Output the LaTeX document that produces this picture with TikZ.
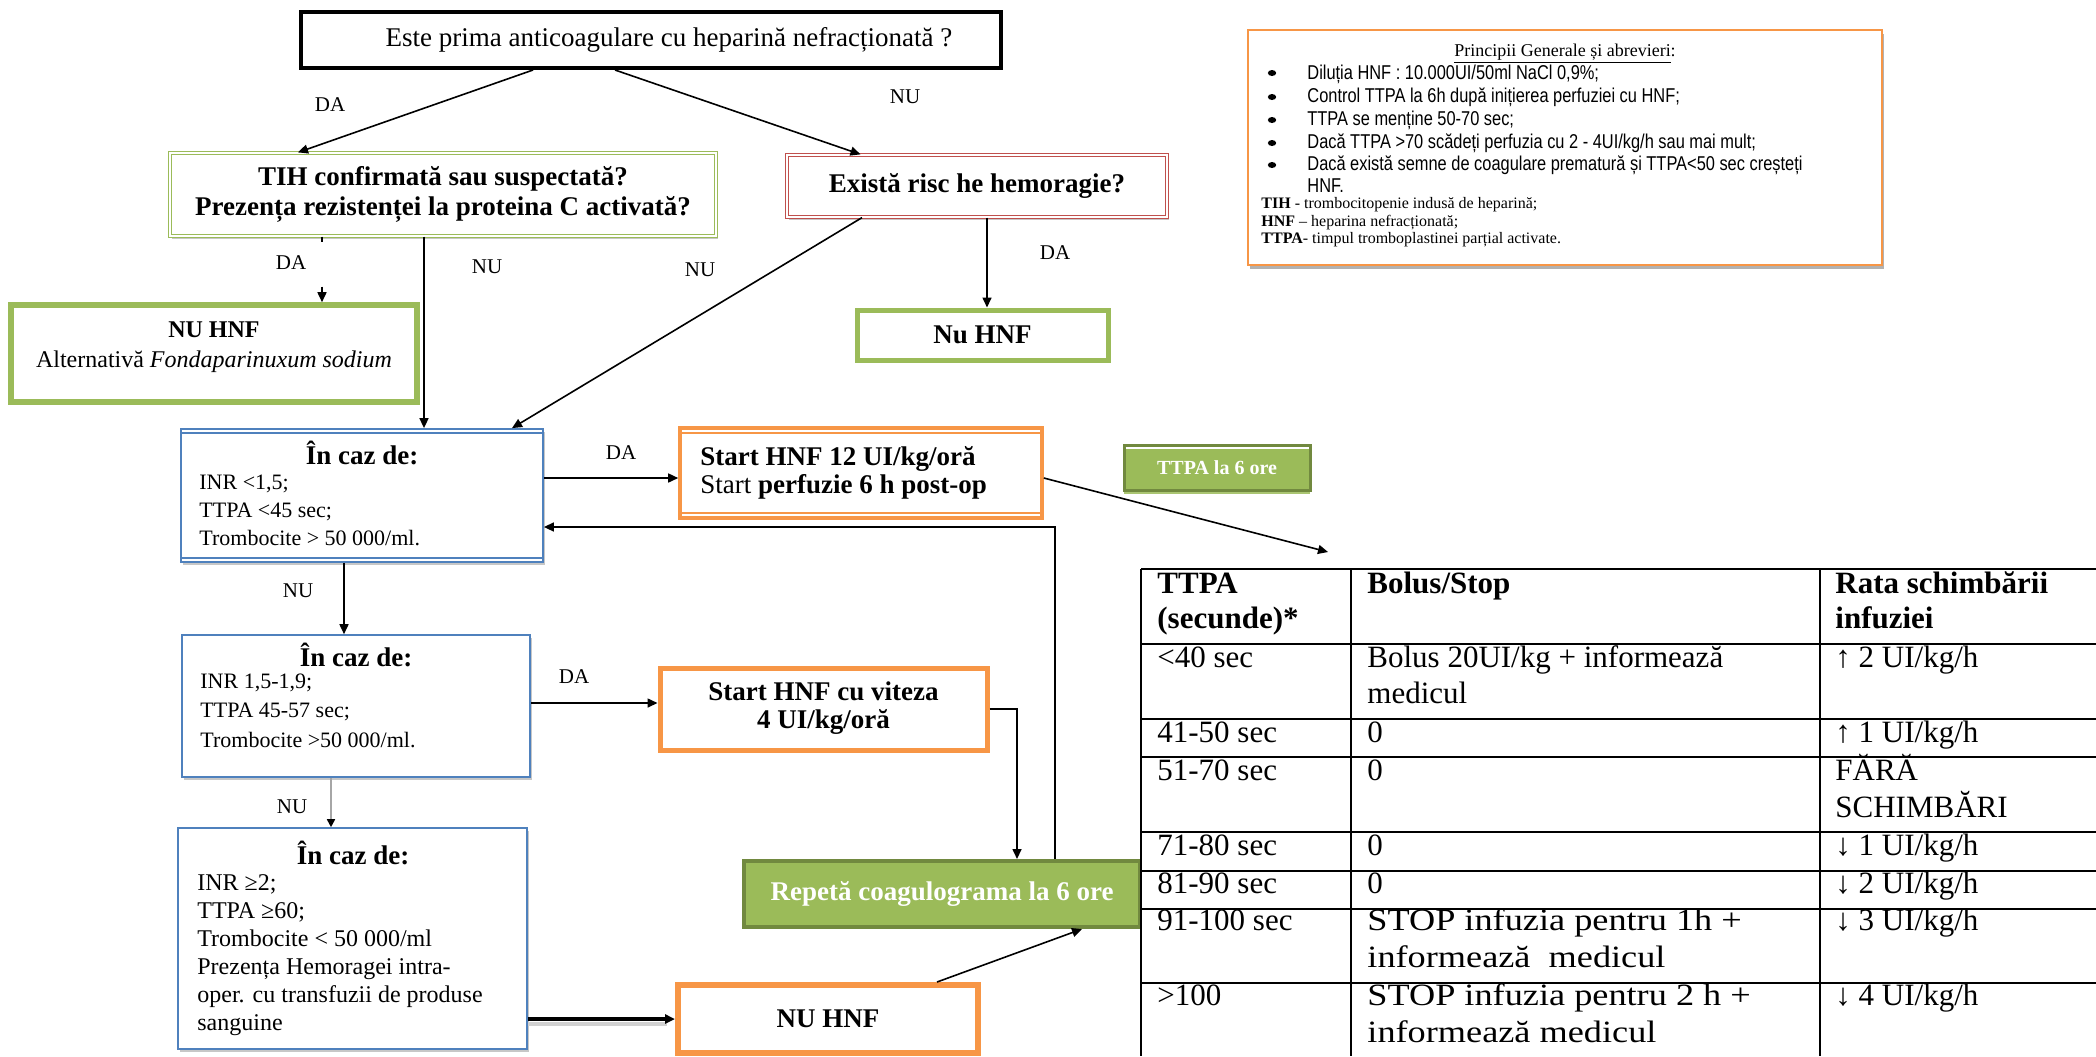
\documentclass[tikz,border=0pt]{standalone}
\usepackage{fontspec}
\setmainfont{Liberation Serif}
\newfontfamily\arialf{Liberation Sans}[FakeStretch=0.82]
\newfontfamily\widef{Liberation Serif}[FakeStretch=1.17]
\usetikzlibrary{arrows.meta,shadows}

\definecolor{ogreen}{HTML}{9BBB59}
\definecolor{dgreen}{HTML}{71893F}
\definecolor{oorange}{HTML}{F79646}
\definecolor{ored}{HTML}{C0504D}
\definecolor{oblue}{HTML}{4F81BD}

\newcommand\setfs[2]{\fontsize{#1}{#2}\selectfont}

\tikzset{
  box/.style={rectangle, inner sep=0pt, align=center},
  softshadow/.style={drop shadow={shadow xshift=1.2pt, shadow yshift=-1.6pt, opacity=0.22, fill=black}},
  conn/.style={draw=black, line width=0.8pt, -{Triangle[length=5pt,width=4.5pt]}},
  lbl/.style={inner sep=0pt, font=\setfs{10.5}{12}},
  hdr/.style={inner sep=0pt, font=\bfseries\setfs{13.5}{16}},
  cond/.style={inner sep=0pt, anchor=base west, font=\setfs{11}{13}},
  condb/.style={inner sep=0pt, anchor=base west, font=\setfs{12}{14}},
  bul/.style={inner sep=0pt, anchor=base west, font=\arialf\setfs{10}{11}},
  abbr/.style={inner sep=0pt, anchor=base west, font=\setfs{8}{10}},
  cell/.style={inner sep=0pt, anchor=base west, font=\setfs{15.5}{18}},
  cellw/.style={inner sep=0pt, anchor=base west, font=\widef\setfs{15.5}{18}},
  cellb/.style={inner sep=0pt, anchor=base west, font=\bfseries\setfs{15.5}{18}},
}

\begin{document}
\begin{tikzpicture}[x=0.5pt, y=-0.5pt]
\useasboundingbox (0,0) rectangle (2096,1056);
\fill[white] (0,0) rectangle (2096,1056);

% ---------- flowchart boxes ----------
\node[box, draw=black, line width=2pt, minimum width=350pt, minimum height=28pt,
      font=\setfs{13.5}{16}] (q1) at (651,40)
  {\hspace*{18pt}Este prima anticoagulare cu heparină nefracționată ?};

\node[box, draw=ogreen, fill=white, line width=0.6pt, double=white, double distance=0.9pt, softshadow,
      minimum width=273pt, minimum height=41.5pt, font=\bfseries\setfs{13.5}{15}] (tih) at (443,194.5)
  {TIH confirmată sau suspectată?\\Prezența rezistenței la proteina C activată?};

\node[box, draw=ored, fill=white, line width=0.6pt, double=white, double distance=0.9pt, softshadow,
      minimum width=190pt, minimum height=31pt, font=\bfseries\setfs{13.5}{16}] (risc) at (977,186)
  {\raisebox{-2pt}{Există risc he hemoragie?}};

\node[box, draw=ogreen, line width=2.8pt, softshadow, fill=white,
      minimum width=203pt, minimum height=48.5pt] (alt) at (214,353.5) {};
\node[align=center, inner sep=0pt, font=\setfs{12}{15}] (alttxt) at (214,347)
  {\textbf{NU HNF}\\Alternativă \textit{Fondaparinuxum sodium}};

\node[box, draw=ogreen, line width=2.5pt, minimum width=125.5pt, minimum height=25pt,
      font=\bfseries\setfs{13.5}{16}] (nohnf) at (982.5,335) {\raisebox{-2pt}{Nu HNF}};

% first set of conditions
\node[box, draw=oblue, line width=0.9pt, softshadow, fill=white,
      minimum width=181pt, minimum height=66.5pt] (c1) at (362,495.5) {};
\draw[oblue, line width=0.9pt] ([yshift=-2.6pt]c1.north west) -- ([yshift=-2.6pt]c1.north east);
\draw[oblue, line width=0.9pt] ([yshift=2.6pt]c1.south west) -- ([yshift=2.6pt]c1.south east);
\node[hdr] (c1t) at (362,453) {În caz de:};
\node[cond] (c1a) at (199,489) {INR <1,5;};
\node[cond] (c1b) at (199,517) {TTPA <45 sec;};
\node[cond] (c1c) at (199,545) {Trombocite > 50 000/ml.};

\node[box, draw=oorange, line width=1.8pt, fill=white,
      minimum width=181pt, minimum height=45pt] (s12) at (861,473) {};
\draw[oorange, line width=1pt] ([xshift=1pt,yshift=-3.4pt]s12.north west) -- ([xshift=-1pt,yshift=-3.4pt]s12.north east);
\draw[oorange, line width=1pt] ([xshift=1pt,yshift=3.4pt]s12.south west) -- ([xshift=-1pt,yshift=3.4pt]s12.south east);
\node[inner sep=0pt, anchor=base west, font=\setfs{13.5}{16}] (s12a) at (700,465) {\textbf{Start HNF 12 UI/kg/oră}};
\node[inner sep=0pt, anchor=base west, font=\setfs{13.5}{16}] (s12b) at (700,493) {Start \textbf{perfuzie 6 h post-op}};

\node[box, fill=ogreen, draw=dgreen, line width=1.5pt,
      drop shadow={shadow xshift=0pt, shadow yshift=-2pt, opacity=1, fill=ogreen!85},
      minimum width=93pt, minimum height=22.5pt, text=white, font=\bfseries\setfs{10}{12}] (t6) at (1217,467.5)
  {TTPA la 6 ore};
\draw[white, line width=1pt] ([xshift=1.5pt,yshift=-2.2pt]t6.north west) -- ([xshift=-1.5pt,yshift=-2.2pt]t6.north east);

% second set of conditions
\node[box, draw=oblue, line width=0.8pt, softshadow, fill=white,
      minimum width=174pt, minimum height=71pt] (c2) at (356,706) {};
\node[hdr] (c2t) at (356,655) {În caz de:};
\node[cond] (c2a) at (200,688) {INR 1,5-1,9;};
\node[cond] (c2b) at (200,717.5) {TTPA 45-57 sec;};
\node[cond] (c2c) at (200,747) {Trombocite >50 000/ml.};

\node[box, draw=oorange, line width=2.5pt, minimum width=163.5pt, minimum height=41pt,
      font=\bfseries\setfs{13.5}{14}] (vit) at (823.5,709)
  {Start HNF cu viteza\\4 UI/kg/oră\rule[-4pt]{0pt}{4pt}};

% third set of conditions
\node[box, draw=oblue, line width=0.8pt, softshadow, fill=white,
      minimum width=174.5pt, minimum height=110.5pt] (c3) at (352.5,938.5) {};
\node[hdr] (c3t) at (353,853) {În caz de:};
\node[condb] (c3a) at (197,890) {INR ≥2;};
\node[condb] (c3b) at (197,918) {TTPA ≥60;};
\node[condb] (c3c) at (197,946) {Trombocite < 50 000/ml};
\node[condb] (c3d) at (197,974) {Prezența Hemoragei intra-};
\node[condb] (c3e) at (197,1002) {oper. cu transfuzii de produse};
\node[condb] (c3f) at (197,1030) {sanguine};

\node[box, fill=ogreen, draw=dgreen, line width=2pt, minimum width=198pt, minimum height=33pt,
      text=white, font=\bfseries\setfs{13.5}{16}] (rep) at (942,894) {Repetă coagulograma la 6 ore};

\node[box, draw=oorange, line width=3pt, minimum width=150pt, minimum height=34pt,
      font=\bfseries\setfs{13.5}{16}] (nu3) at (828,1019) {NU HNF};

% ---------- general principles ----------
\node[box, draw=oorange, line width=1pt, fill=white,
      drop shadow={shadow xshift=1.2pt, shadow yshift=-2pt, opacity=0.3, fill=black},
      minimum width=317pt, minimum height=117.5pt] (pg) at (1565,147.5) {};
\node[inner sep=0pt, anchor=base, font=\setfs{9}{11}] (pgt) at (1565,56) {\underline{Principii Generale și abrevieri}:};
\foreach \yy in {78,102,125,148,170} \fill (1272,\yy-5) ellipse [x radius=2.1pt, y radius=1.5pt];
\node[bul] (pg1) at (1307,79) {Diluția HNF : 10.000UI/50ml NaCl 0,9\%;};
\node[bul] (pg2) at (1307,102) {Control TTPA la 6h după inițierea perfuziei cu HNF;};
\node[bul] (pg3) at (1307,125) {TTPA se menține 50-70 sec;};
\node[bul] (pg4) at (1307,148) {Dacă TTPA >70 scădeți perfuzia cu 2 - 4UI/kg/h sau mai mult;};
\node[bul] (pg5) at (1307,170) {Dacă există semne de coagulare prematură și TTPA<50 sec creșteți};
\node[bul] (pg6) at (1307,192) {HNF.};
\node[abbr] (ab1) at (1261,208) {\textbf{TIH} - trombocitopenie indusă de heparină;};
\node[abbr] (ab2) at (1261,226) {\textbf{HNF} – heparina nefracționată;};
\node[abbr] (ab3) at (1261,243) {\textbf{TTPA}- timpul tromboplastinei parțial activate.};

% ---------- table ----------
\begin{scope}[line width=0.8pt]
  \foreach \yy in {569,644,719,757,832,871,909,983} \draw (1141,\yy) -- (2096,\yy);
  \foreach \xx in {1141,1351,1820} \draw (\xx,569) -- (\xx,1056);
\end{scope}
\coordinate (tbltip) at (1328,552);
\node[cellb] (h1a) at (1157,593) {TTPA};
\node[cellb] (h1b) at (1157,628) {(secunde)*};
\node[cellb] (h2) at (1367,593) {Bolus/Stop};
\node[cellb] (h3a) at (1835,593) {Rata schimbării};
\node[cellb] (h3b) at (1835,628) {infuziei};
\node[cell] (r1a) at (1157,667) {<40 sec};
\node[cell] (r1b) at (1367,667) {Bolus 20UI/kg + informează};
\node[cell] (r1c) at (1367,703) {medicul};
\node[cell] (r1d) at (1835,667) {↑ 2 UI/kg/h};
\node[cell] (r2a) at (1157,742) {41-50 sec};
\node[cell] (r2b) at (1367,742) {0};
\node[cell] (r2c) at (1835,742) {↑ 1 UI/kg/h};
\node[cell] (r3a) at (1157,780) {51-70 sec};
\node[cell] (r3b) at (1367,780) {0};
\node[cell] (r3c) at (1835,780) {FĂRĂ};
\node[cell] (r3d) at (1835,817) {SCHIMBĂRI};
\node[cell] (r4a) at (1157,855) {71-80 sec};
\node[cell] (r4b) at (1367,855) {0};
\node[cell] (r4c) at (1835,855) {↓ 1 UI/kg/h};
\node[cell] (r5a) at (1157,893) {81-90 sec};
\node[cell] (r5b) at (1367,893) {0};
\node[cell] (r5c) at (1835,893) {↓ 2 UI/kg/h};
\node[cell] (r6a) at (1157,930) {91-100 sec};
\node[cellw] (r6b) at (1367,930) {STOP infuzia pentru 1h +};
\node[cellw] (r6c) at (1367,967) {informează\ \ medicul};
\node[cell] (r6d) at (1835,930) {↓ 3 UI/kg/h};
\node[cell] (r7a) at (1157,1005) {>100};
\node[cellw] (r7b) at (1367,1005) {STOP infuzia pentru 2 h +};
\node[cellw] (r7c) at (1367,1042) {informează medicul};
\node[cell] (r7d) at (1835,1005) {↓ 4 UI/kg/h};

% ---------- connectors ----------
\draw[conn] ([xshift=-59pt]q1.south) -- ([xshift=-72.5pt]tih.north);
\draw[conn] ([xshift=-18pt]q1.south) -- ([xshift=-58.25pt]risc.north);
\draw[conn, dash pattern=on 2.5pt off 22.5pt on 30pt] ([xshift=-60.5pt]tih.south) -- ([xshift=54pt]alt.north);
\draw[conn] ([xshift=-9.5pt]tih.south) -- ([xshift=31pt]c1.north);
\draw[conn] ([xshift=-57.5pt]risc.south) -- ([xshift=75pt]c1.north);
\draw[conn] ([xshift=5pt]risc.south) -- ([xshift=2.25pt]nohnf.north);
\coordinate (s12in) at ([yshift=-2.5pt]s12.west);
\draw[conn] (c1.east |- s12in) -- (s12in);
\draw[conn] ([yshift=-2.5pt]s12.east) -- (tbltip);
\draw[conn] ([xshift=56.5pt]rep.north) |- ([yshift=-15.75pt]c1.east);
\draw[conn] ([xshift=-9pt]c1.south) -- ([xshift=-6pt]c2.north);
\coordinate (vitin) at ([yshift=3pt]vit.west);
\draw[conn] (c2.east |- vitin) -- (vitin);
\draw[conn] (vit.east) -| ([xshift=37.5pt]rep.north);
\draw[conn, draw=black!35, -{Triangle[length=4pt,width=4pt,color=black]}] ([xshift=-12.5pt]c2.south) -- ([xshift=-10.75pt]c3.north);
\draw[black!18, line width=2pt] ([yshift=-2.5pt]c3.east |- nu3.west) -- ([yshift=-2.5pt,xshift=-4pt]nu3.west);
\draw[conn, line width=2pt] (c3.east |- nu3.west) -- (nu3.west);
\draw[conn] ([xshift=54.5pt]nu3.north) -- ([xshift=70pt]rep.south);

% ---------- connector labels ----------
\node[lbl] (lda1) at (330,105) {DA};
\node[lbl] (lnu1) at (905,97) {NU};
\node[lbl] (lda2) at (291,263) {DA};
\node[lbl] (lnu2) at (487,267) {NU};
\node[lbl] (lnu3) at (700,270) {NU};
\node[lbl] (lda3) at (1055,253) {DA};
\node[lbl] (lda4) at (621,453) {DA};
\node[lbl] (lnu4) at (298,591) {NU};
\node[lbl] (lda5) at (574,677) {DA};
\node[lbl] (lnu5) at (292,807) {NU};
\end{tikzpicture}
\end{document}
